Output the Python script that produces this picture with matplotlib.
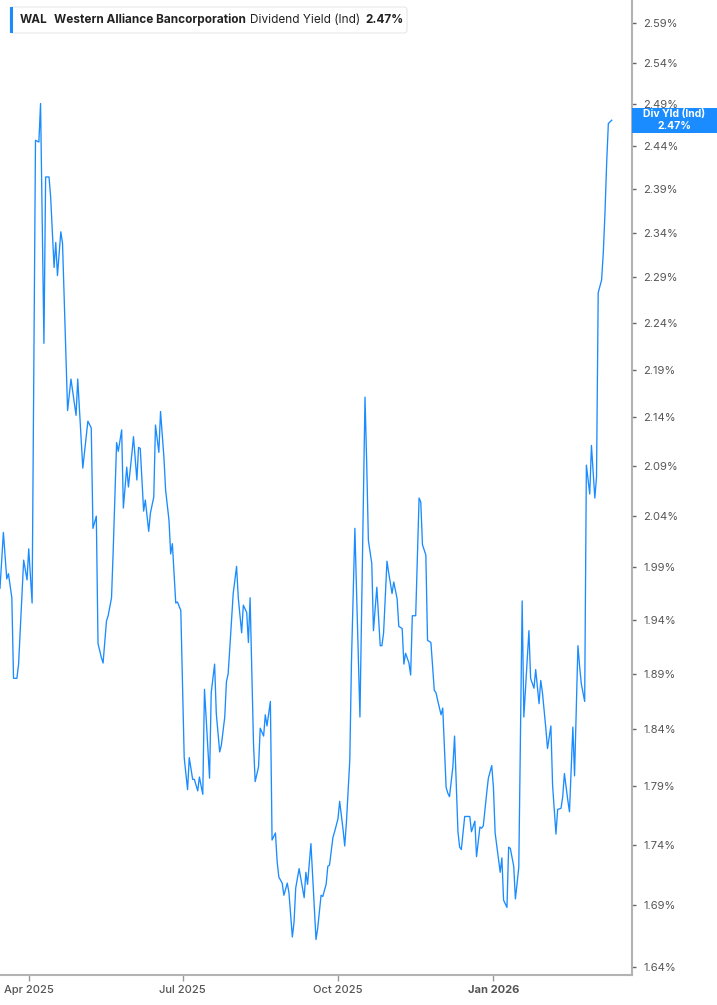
import matplotlib
matplotlib.use("Agg")
import matplotlib.pyplot as plt
import matplotlib.dates as mdates
import pandas as pd
from matplotlib.patches import FancyBboxPatch, Rectangle
from matplotlib.ticker import FixedLocator, FuncFormatter, NullLocator
from matplotlib.transforms import IdentityTransform

plt.rcParams['font.family'] = ['Inter', 'DejaVu Sans']

# dividend yield (indicated), %
dates = [
    '2025-03-15', '2025-03-17', '2025-03-19', '2025-03-20', '2025-03-22', '2025-03-23', '2025-03-25', '2025-03-26',
    '2025-03-29', '2025-03-31',
    '2025-04-01', '2025-04-03', '2025-04-05', '2025-04-07', '2025-04-08', '2025-04-10', '2025-04-11', '2025-04-13',
    '2025-04-14', '2025-04-16', '2025-04-17', '2025-04-18', '2025-04-20', '2025-04-21', '2025-04-24', '2025-04-26',
    '2025-04-29', '2025-04-30',
    '2025-05-03', '2025-05-06', '2025-05-08', '2025-05-09', '2025-05-11', '2025-05-12', '2025-05-14', '2025-05-15',
    '2025-05-17', '2025-05-18', '2025-05-20', '2025-05-21', '2025-05-23', '2025-05-24', '2025-05-26', '2025-05-27',
    '2025-05-29', '2025-05-30',
    '2025-06-01', '2025-06-02', '2025-06-04', '2025-06-05', '2025-06-06', '2025-06-08', '2025-06-09', '2025-06-11',
    '2025-06-12', '2025-06-14', '2025-06-15', '2025-06-17', '2025-06-18', '2025-06-20', '2025-06-21', '2025-06-23',
    '2025-06-24', '2025-06-25', '2025-06-27', '2025-06-28', '2025-06-30',
    '2025-07-02', '2025-07-04', '2025-07-05', '2025-07-07', '2025-07-08', '2025-07-10', '2025-07-11', '2025-07-13',
    '2025-07-14', '2025-07-15', '2025-07-17', '2025-07-18', '2025-07-20', '2025-07-21', '2025-07-23', '2025-07-24',
    '2025-07-26', '2025-07-27', '2025-07-28', '2025-07-29', '2025-07-31',
    '2025-08-02', '2025-08-03', '2025-08-05', '2025-08-06', '2025-08-08', '2025-08-09', '2025-08-10', '2025-08-12',
    '2025-08-13', '2025-08-15', '2025-08-16', '2025-08-18', '2025-08-19', '2025-08-20', '2025-08-22', '2025-08-23',
    '2025-08-25', '2025-08-26', '2025-08-27', '2025-08-29', '2025-08-30',
    '2025-09-01', '2025-09-02', '2025-09-04', '2025-09-05', '2025-09-06', '2025-09-08', '2025-09-09', '2025-09-11',
    '2025-09-12', '2025-09-13', '2025-09-15', '2025-09-16', '2025-09-18', '2025-09-19', '2025-09-21', '2025-09-22',
    '2025-09-24', '2025-09-25', '2025-09-26', '2025-09-28', '2025-09-29',
    '2025-10-01', '2025-10-02', '2025-10-04', '2025-10-05', '2025-10-06', '2025-10-08', '2025-10-09', '2025-10-11',
    '2025-10-14', '2025-10-17', '2025-10-18', '2025-10-19', '2025-10-21', '2025-10-22', '2025-10-24', '2025-10-26',
    '2025-10-27', '2025-10-28', '2025-10-30', '2025-10-31',
    '2025-11-02', '2025-11-03', '2025-11-05', '2025-11-06', '2025-11-08', '2025-11-09', '2025-11-10', '2025-11-12',
    '2025-11-13', '2025-11-14', '2025-11-16', '2025-11-18', '2025-11-19', '2025-11-20', '2025-11-22', '2025-11-23',
    '2025-11-25', '2025-11-27', '2025-11-28', '2025-11-29',
    '2025-12-01', '2025-12-02', '2025-12-04', '2025-12-05', '2025-12-06', '2025-12-08', '2025-12-09', '2025-12-11',
    '2025-12-12', '2025-12-13', '2025-12-15', '2025-12-16', '2025-12-18', '2025-12-19', '2025-12-21', '2025-12-22',
    '2025-12-24', '2025-12-25', '2025-12-26', '2025-12-28', '2025-12-29', '2025-12-31',
    '2026-01-01', '2026-01-02', '2026-01-04', '2026-01-05', '2026-01-06', '2026-01-07', '2026-01-09', '2026-01-10',
    '2026-01-11', '2026-01-13', '2026-01-14', '2026-01-16', '2026-01-18', '2026-01-19', '2026-01-22', '2026-01-23',
    '2026-01-25', '2026-01-26', '2026-01-28', '2026-01-29', '2026-01-30',
    '2026-02-01', '2026-02-02', '2026-02-04', '2026-02-05', '2026-02-07', '2026-02-08', '2026-02-10', '2026-02-11',
    '2026-02-12', '2026-02-14', '2026-02-15', '2026-02-17', '2026-02-18', '2026-02-20', '2026-02-21', '2026-02-22',
    '2026-02-24', '2026-02-25', '2026-02-27', '2026-02-28',
    '2026-03-02', '2026-03-03', '2026-03-04', '2026-03-06', '2026-03-07', '2026-03-08', '2026-03-09', '2026-03-10',
    '2026-03-12',
]

yields = [
    1.970, 2.024, 1.979, 1.984, 1.961, 1.886, 1.886, 1.899, 1.997, 1.978,
    2.008, 1.956, 2.447, 2.445, 2.491, 2.218, 2.404, 2.404, 2.380, 2.301, 2.329, 2.292, 2.341, 2.328, 2.147, 2.180,
    2.142, 2.180,
    2.088, 2.136, 2.129, 2.028, 2.040, 1.918, 1.905, 1.900, 1.939, 1.944, 1.961, 2.007, 2.114, 2.105, 2.127, 2.048,
    2.089, 2.069,
    2.102, 2.120, 2.076, 2.109, 2.108, 2.045, 2.056, 2.025, 2.043, 2.059, 2.132, 2.104, 2.146, 2.099, 2.066, 2.036,
    2.003, 2.013, 1.956, 1.957, 1.949,
    1.815, 1.787, 1.815, 1.796, 1.796, 1.786, 1.798, 1.783, 1.876, 1.850, 1.797, 1.873, 1.899, 1.854, 1.820, 1.826,
    1.851, 1.883, 1.890, 1.914, 1.965,
    1.991, 1.961, 1.928, 1.954, 1.947, 1.919, 1.961, 1.828, 1.794, 1.807, 1.841, 1.834, 1.853, 1.843, 1.865, 1.744,
    1.750, 1.726, 1.713, 1.708, 1.698,
    1.708, 1.700, 1.664, 1.676, 1.704, 1.720, 1.712, 1.696, 1.717, 1.707, 1.741, 1.714, 1.662, 1.671, 1.698, 1.697,
    1.707, 1.722, 1.723, 1.746, 1.751,
    1.762, 1.777, 1.753, 1.739, 1.759, 1.813, 1.902, 2.028, 1.851, 2.161, 2.093, 2.016, 1.994, 1.930, 1.971, 1.916,
    1.916, 1.928, 1.996, 1.985,
    1.965, 1.976, 1.960, 1.934, 1.932, 1.899, 1.909, 1.900, 1.889, 1.944, 1.944, 2.058, 2.054, 2.012, 2.002, 1.921,
    1.919, 1.875, 1.873, 1.866,
    1.853, 1.859, 1.789, 1.784, 1.781, 1.807, 1.834, 1.751, 1.738, 1.736, 1.764, 1.764, 1.764, 1.751, 1.760, 1.730,
    1.755, 1.754, 1.756, 1.784, 1.797, 1.808,
    1.789, 1.750, 1.728, 1.717, 1.729, 1.694, 1.688, 1.738, 1.737, 1.722, 1.695, 1.721, 1.958, 1.851, 1.930, 1.886,
    1.877, 1.894, 1.863, 1.884, 1.873,
    1.841, 1.823, 1.843, 1.791, 1.749, 1.770, 1.771, 1.781, 1.801, 1.778, 1.768, 1.842, 1.799, 1.916, 1.897, 1.881,
    1.865, 2.091, 2.062, 2.111,
    2.058, 2.079, 2.273, 2.287, 2.317, 2.362, 2.420, 2.467, 2.471,
]

ytick_vals = [1.64, 1.69, 1.74, 1.79, 1.84, 1.89, 1.94, 1.99, 2.04, 2.09, 2.14, 2.19, 2.24, 2.29, 2.34, 2.39,
              2.44, 2.49, 2.54, 2.59]
xtick_dates = ['2025-04-01', '2025-07-01', '2025-10-01', '2026-01-01']
xtick_labels = ['Apr 2025', 'Jul 2025', 'Oct 2025', 'Jan 2026']
last_value = '2.47%'

BLUE = '#1a8cff'
GREY = '#555555'
W, H = 717, 1005

fig = plt.figure(figsize=(W / 100, H / 100), dpi=100)
ax = fig.add_axes([0, 1 - 975 / H, 632 / W, 975 / H])

x = pd.to_datetime(dates)
ax.plot(x, yields, color=BLUE, lw=0.95)

ax.set_yscale('log')
ax.set_ylim(1.6337, 2.619)
ax.set_xlim(pd.Timestamp('2025-03-15'), pd.Timestamp('2026-03-24'))

ax.yaxis.set_major_locator(FixedLocator(ytick_vals))
ax.yaxis.set_minor_locator(NullLocator())
ax.yaxis.set_major_formatter(FuncFormatter(lambda v, p: f'{v:.2f}%'))
ax.yaxis.tick_right()
ax.tick_params(axis='y', length=3, width=1, color='#666666', pad=5, labelsize=8, labelcolor=GREY)

ax.set_xticks(pd.to_datetime(xtick_dates))
ax.set_xticklabels(xtick_labels)
ax.xaxis.set_minor_locator(NullLocator())
ax.tick_params(axis='x', length=4, width=1, color='#999999', pad=3, labelsize=8, labelcolor=GREY)
for lab in ax.get_xticklabels():
    lab.set_fontweight('bold' if lab.get_text().startswith('Jan') else 'medium')

for s in ['left', 'top']:
    ax.spines[s].set_visible(False)
for s in ['right', 'bottom']:
    ax.spines[s].set_color('#b3b3b3')
    ax.spines[s].set_linewidth(1.5)

# header box, top-left
hdr = FancyBboxPatch((10, H - 33), 397, 26, boxstyle='round,pad=0,rounding_size=3',
                     transform=IdentityTransform(), fc='white', ec='#e6e6e6', lw=0.8, zorder=5)
fig.add_artist(hdr)
fig.add_artist(Rectangle((10, H - 33), 3, 26, transform=IdentityTransform(), fc=BLUE, ec='none', zorder=6))
ty = 1 - 20 / H
fig.text(20 / W, ty, 'WAL', fontsize=8.5, fontweight='bold', color='#222222', va='center', zorder=7)
fig.text(54 / W, ty, 'Western Alliance Bancorporation', fontsize=8.5, fontweight='bold', color='#222222',
         va='center', zorder=7)
fig.text(250 / W, ty, 'Dividend Yield (Ind)', fontsize=8.5, color='#222222', va='center', zorder=7)
fig.text(365 / W, ty, last_value, fontsize=8.5, fontweight='bold', color='#222222', va='center', zorder=7)

# last value tag on the right axis
fig.canvas.draw()
yc = ax.transData.transform((mdates.date2num(x[-1]), yields[-1]))[1]
fig.add_artist(Rectangle((632, yc - 13), W - 632, 25, transform=IdentityTransform(), fc=BLUE, ec='none', zorder=8))
fig.text(674 / W, (yc + 6) / H, 'Div Yld (Ind)', fontsize=7.5, fontweight='bold', color='white',
         ha='center', va='center', zorder=9)
fig.text(674 / W, (yc - 6) / H, last_value, fontsize=7.5, fontweight='bold', color='white',
         ha='center', va='center', zorder=9)

fig.savefig('out.png', dpi=100, facecolor='white')
